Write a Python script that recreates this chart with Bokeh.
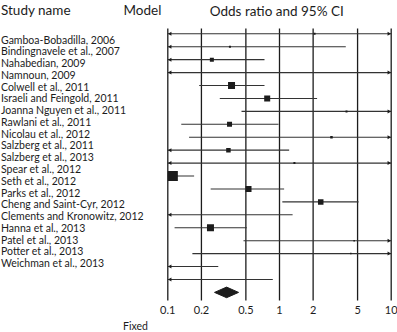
import math
from bokeh.plotting import figure
from bokeh.models import Range1d, LogScale
from bokeh.core.properties import value
from bokeh.embed import file_html
from bokeh.resources import INLINE

studies = ["Gamboa-Bobadilla, 2006", "Bindingnavele et al., 2007", "Nahabedian, 2009",
           "Namnoun, 2009", "Colwell et al., 2011", "Israeli and Feingold, 2011",
           "Joanna Nguyen et al., 2011", "Rawlani et al., 2011", "Nicolau et al., 2012",
           "Salzberg et al., 2011", "Salzberg et al., 2013", "Spear et al., 2012",
           "Seth et al., 2012", "Parks et al., 2012", "Cheng and Saint-Cyr, 2012",
           "Clements and Kronowitz, 2012", "Hanna et al., 2013", "Patel et al., 2013",
           "Potter et al., 2013", "Weichman et al., 2013"]
odds_ratio = [2.06, 0.36, 0.248, float("nan"), 0.372, 0.776, 3.98, 0.357, 2.92, 0.349,
              1.36, 0.111, 0.528, 2.34, float("nan"), 0.241, 4.66, 4.35, float("nan"), float("nan")]
ci_lower = [0.04, 0.03, 0.06, 0.02, 0.191, 0.292, 0.457, 0.132, 0.155, 0.05,
            0.05, 0.06, 0.242, 1.06, 0.05, 0.115, 0.476, 0.166, 0.05, 0.05]
ci_upper = [25, 3.92, 0.734, 30, 0.734, 2.17, 20, 0.98, 20, 1.22,
            20, 0.172, 1.10, 5.10, 1.31, 0.51, 20, 20, 0.283, 0.871]
weight_px = [2, 2, 4, 0, 7, 6, 2, 5, 2.5, 4.5, 2, 10, 6, 5.5, 0, 7, 1.5, 1.5, 0, 0]
summary_or = 0.336
summary_lo = 0.262
summary_hi = 0.430
tick_values = [0.1, 0.2, 0.5, 1, 2, 5, 10]
tick_labels = ["0.1", "0.2", "0.5", "1", "2", "5", "10"]
axis_min, axis_max = 0.1, 10

W, H = 397, 332
X_ONE = 279.0      # pixel of OR = 1
X_DEC = 111.7      # pixels per decade
Y0 = 33.3          # pixel of first row
DY = 12.93         # pixels per row


def px_x(px):
    return 10 ** ((px - X_ONE) / X_DEC)


def px_y(py):
    return (py - Y0) / DY


p = figure(width=W, height=H, x_axis_type="log", x_axis_location=None, y_axis_location=None,
           x_range=Range1d(px_x(0), px_x(W)), y_range=Range1d(px_y(H), px_y(0)),
           output_backend="svg", toolbar_location=None, min_border=0)
p.x_scale = LogScale()
p.outline_line_color = None
p.xgrid.visible = False
p.ygrid.visible = False
p.background_fill_color = "white"
p.border_fill_color = "white"

ink = "#1c1c1c"
font = value("Lato")

# vertical reference lines
p.segment(x0=tick_values, x1=tick_values, y0=[px_y(28)] * len(tick_values),
          y1=[px_y(300)] * len(tick_values), line_color=ink, line_width=1.3)

rows = list(range(len(studies)))
x0 = [max(lo, axis_min) for lo in ci_lower]
x1 = [min(hi, axis_max) for hi in ci_upper]
p.segment(x0=x0, x1=x1, y0=rows, y1=rows, line_color="#333333", line_width=1.1)

# arrows for truncated intervals
la = [r for r, lo in zip(rows, ci_lower) if lo < axis_min]
ra = [r for r, hi in zip(rows, ci_upper) if hi > axis_max]
p.scatter(x=[px_x(X_ONE - X_DEC + 2.5)] * len(la), y=la, marker="triangle", size=4,
          angle=math.pi / 2, fill_color=ink, line_color=None)
p.scatter(x=[px_x(X_ONE + X_DEC - 2.5)] * len(ra), y=ra, marker="triangle", size=4,
          angle=-math.pi / 2, fill_color=ink, line_color=None)

# point estimates
pr = [r for r, o in zip(rows, odds_ratio) if not math.isnan(o)]
po = [o for o in odds_ratio if not math.isnan(o)]
ps = [s for s, o in zip(weight_px, odds_ratio) if not math.isnan(o)]
p.scatter(x=po, y=pr, marker="square", size=ps, fill_color=ink, line_color=None)

# summary diamond
dr = len(studies)
p.patch(x=[summary_lo, summary_or, summary_hi, summary_or],
        y=[dr, dr - 0.41, dr, dr + 0.41], fill_color=ink, line_color=ink)

# tick labels
p.text(x=tick_values, y=[px_y(309)] * len(tick_values), text=tick_labels,
       text_align="center", text_baseline="middle", text_font=font,
       text_font_size="11px", text_color=ink)

# study labels
p.text(x=[px_x(0.5)] * len(studies), y=[px_y(39 + i * 11.77) for i in rows], text=studies,
       text_align="left", text_baseline="middle", text_font=font,
       text_font_size="10.5px", text_color=ink)

# headers
p.text(x=[px_x(0.5), px_x(123)], y=[px_y(9), px_y(9)], text=["Study name", "Model"],
       text_align="left", text_baseline="middle", text_font=font,
       text_font_size="13.5px", text_color=ink)
p.text(x=[px_x(278)], y=[px_y(10)], text=["Odds ratio  and 95% CI"],
       text_align="center", text_baseline="middle", text_font=font,
       text_font_size="13.5px", text_color=ink)
p.text(x=[px_x(135)], y=[px_y(325)], text=["Fixed"],
       text_align="center", text_baseline="middle", text_font=font,
       text_font_size="10.5px", text_color=ink)

open("out.html", "w").write(file_html(p, INLINE))
